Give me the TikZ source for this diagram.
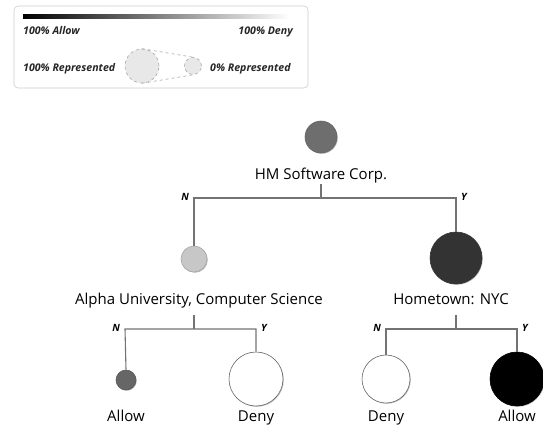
\documentclass[tikz,border=0pt]{standalone}
\usepackage{fontspec}
\setmainfont{Open Sans}
\usetikzlibrary{shadows}
\begin{document}
\begin{tikzpicture}[x=1pt,y=-1pt,
  lbl/.style={font=\fontsize{15}{17}\selectfont, inner sep=0pt, anchor=base},
  yn/.style={font=\fontsize{10}{11}\selectfont\bfseries\itshape, inner sep=0pt, anchor=base},
  leg/.style={font=\fontsize{10.6}{12}\selectfont\bfseries\itshape, text=black!85, inner sep=0pt, anchor=base},
  edge/.style={draw=black!55, line width=1.1pt},
  circ/.style={circle, draw=#1, line width=0.6pt, inner sep=0pt},
  shd/.style={drop shadow={shadow xshift=0.8pt, shadow yshift=-0.8pt, opacity=0.25, fill=black}},
]
\useasboundingbox (0,0) rectangle (543,426);
% legend
\draw[black!20, line width=0.6pt, rounded corners=4pt] (14,6) rectangle (308,88);
\shade[left color=black, right color=white] (23,14) rectangle (290,18.5);
\node[leg, anchor=base west] (la) at (23,34) {100\% Allow};
\node[leg, anchor=base east] (ld) at (293,34) {100\% Deny};
\node[leg, anchor=base west] (lr) at (23,71) {100\% Represented};
\node[leg, anchor=base west] (l0) at (210,71) {0\% Represented};
\node[circ=black!35, fill=black!9, dashed, minimum size=34pt] (bigc) at (142,66) {};
\node[circ=black!35, fill=black!9, dashed, minimum size=17pt] (smc) at (193,66) {};
\draw[black!35, dashed, line width=0.6pt] (bigc.north) -- (smc.north);
\draw[black!35, dashed, line width=0.6pt] (bigc.south) -- (smc.south);
% tree nodes
\node[circ=black!60, fill=black!57, shd, minimum size=32pt] (root) at (321,137) {};
\node[lbl] (rootl) at (321,179) {HM Software Corp.};
\node[circ=black!35, fill=black!22, shd, minimum size=26pt] (a) at (194,259) {};
\node[lbl] (al) at (199,304) {Alpha University, Computer Science};
\node[circ=black!80, fill=black!80, shd, minimum size=52pt] (h) at (456,258) {};
\node[lbl] (hl) at (451,304) {Hometown: NYC};
\node[circ=black!65, fill=black!60, shd, minimum size=20pt] (aa) at (126,380) {};
\node[lbl] (aal) at (126,421) {Allow};
\node[circ=black!60, fill=white, shd, minimum size=54pt] (ad) at (256,379) {};
\node[lbl] (adl) at (256,421) {Deny};
\node[circ=black!60, fill=white, shd, minimum size=48pt] (hd) at (386,379) {};
\node[lbl] (hdl) at (386,421) {Deny};
\node[circ=black, fill=black, shd, minimum size=54pt] (ha) at (517,379) {};
\node[lbl] (hal) at (517,421) {Allow};
% connectors
\coordinate (rj) at (321,198);
\coordinate (rl) at (194,198);
\coordinate (rr) at (456,198);
\draw[edge] (321,184) -- (rj);
\draw[edge] (a.north) -- (rl) -- (rr) -- (h.north);
\node[yn, anchor=base east] (rn) at (189,200) {N};
\node[yn, anchor=base west] (ry) at (461,200) {Y};
\coordinate (al1) at (125,329);
\coordinate (ar1) at (256,329);
\draw[edge] (194,315) -- (194,329);
\draw[edge] (aa.north) -- (al1) -- (ar1) -- (ad.north);
\node[yn, anchor=base east] (an) at (120,331) {N};
\node[yn, anchor=base west] (ay) at (261,331) {Y};
\coordinate (hl1) at (386,329);
\coordinate (hr1) at (517,329);
\draw[edge] (456,315) -- (456,329);
\draw[edge] (hd.north) -- (hl1) -- (hr1) -- (ha.north);
\node[yn, anchor=base east] (hn) at (381,331) {N};
\node[yn, anchor=base west] (hy) at (522,331) {Y};
\end{tikzpicture}
\end{document}
